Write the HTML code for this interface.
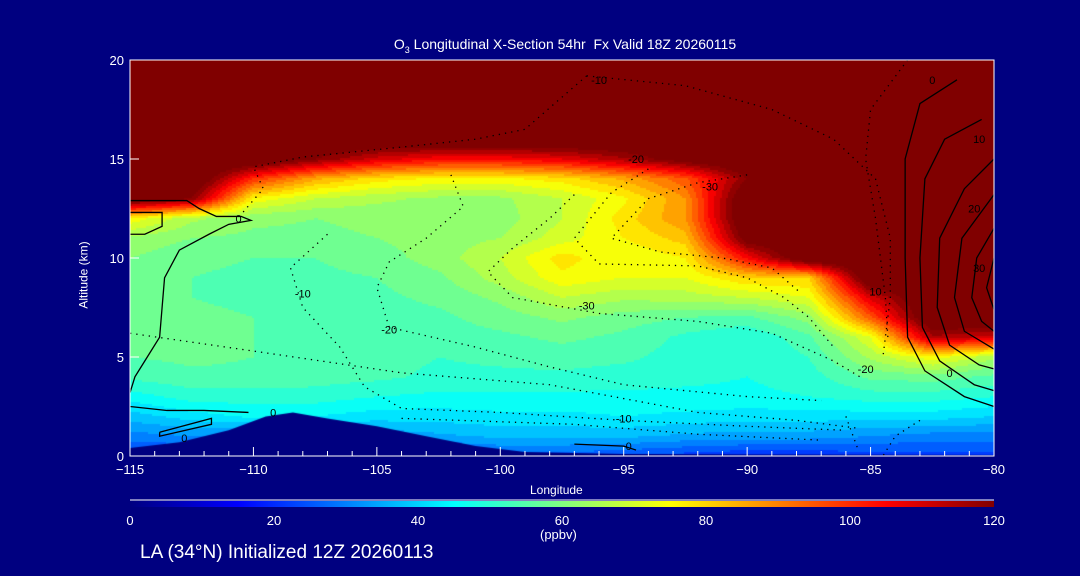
<!DOCTYPE html>
<html><head><meta charset="utf-8">
<style>
html,body{margin:0;padding:0;background:#000080;}
#wrap{position:relative;width:1080px;height:576px;background:#000080;overflow:hidden;font-family:"Liberation Sans",sans-serif;color:#fff;}
.t{position:absolute;white-space:nowrap;font-size:13px;}
canvas{position:absolute;left:130px;top:60px;}
svg{position:absolute;left:0;top:0;}
</style></head>
<body>
<div id="wrap">
<canvas id="cv" width="864" height="396"></canvas>
<svg id="sv" width="1080" height="576"></svg>
<div class="t" style="left:0;width:1130px;text-align:center;top:36px;font-size:14px;">O<sub style="font-size:9px">3</sub> Longitudinal X-Section 54hr&nbsp; Fx Valid 18Z 20260115</div>
<div class="t" style="left:50px;top:268px;transform:rotate(-90deg);font-size:12px;">Altitude (km)</div>
<div class="t" style="left:530px;top:483px;font-size:12px;">Longitude</div>
<div class="t" style="left:540px;top:527px;">(ppbv)</div>
<div class="t" style="left:140px;top:542px;font-size:19px;">LA (34°N) Initialized 12Z 20260113</div>
</div>
<script>
const lons=[-115,-112.5,-110,-107.5,-105,-102.5,-100,-97.5,-95,-92.5,-90,-87.5,-85,-82.5,-80];
const alts=[0,1,2,3,4,5,6,7,8,9,10,11,12,13,14,15,16,17,18,19,20];
const ozone=[
[22,22,22,22,22,24,26,26,24,22,20,20,22,22,22],
[30,32,30,30,33,35,37,37,37,35,34,34,32,30,30],
[38,42,45,44,42,42,43,43,44,43,42,42,42,42,40],
[46,50,50,50,48,47,47,47,47,47,47,48,50,50,48],
[53,55,55,54,53,51,51,51,50,49,48,50,57,58,55],
[56,57,56,55,54,52,53,54,53,50,48,52,65,75,65],
[56,57,56,55,54,54,55,57,55,51,48,55,72,115,110],
[57,57,56,55,54,55,58,61,58,56,55,62,95,130,130],
[57,56,55,55,55,57,61,68,65,66,68,72,110,130,130],
[58,56,55,55,56,59,66,75,72,72,80,80,130,130,130],
[60,57,56,56,58,62,68,78,72,76,105,130,130,130,130],
[63,60,59,59,60,62,64,70,76,82,125,130,130,130,130],
[75,65,61,60,61,62,62,68,78,88,130,130,130,130,130],
[130,120,75,68,65,63,63,68,75,88,130,130,130,130,130],
[130,130,100,85,78,75,75,78,85,95,120,130,130,130,130],
[130,130,130,120,110,105,105,108,115,125,130,130,130,130,130],
[130,130,130,130,130,130,130,130,130,130,130,130,130,130,130],
[130,130,130,130,130,130,130,130,130,130,130,130,130,130,130],
[130,130,130,130,130,130,130,130,130,130,130,130,130,130,130],
[130,130,130,130,130,130,130,130,130,130,130,130,130,130,130],
[130,130,130,130,130,130,130,130,130,130,130,130,130,130,130]];
const terrainLon=[-115,-113,-111,-109.5,-108.4,-107,-105,-103,-101,-99,-95,-90,-85,-80];
const terrainAlt=[0.4,0.7,1.3,2.0,2.2,1.9,1.5,1.0,0.5,0.2,0.1,0.08,0.06,0.05];
const xTicks=[-115,-110,-105,-100,-95,-90,-85,-80];
const yTicks=[0,5,10,15,20];
const cbTicks=[0,20,40,60,80,100,120];
const solidLines=[
[[-115,12.9],[-112.7,12.9],[-112.2,12.5],[-111.5,12.1],[-110.5,12.1],[-110.1,11.9],[-111,11.7],[-111.8,11.2],[-113,10.4],[-113.6,9],[-113.7,7.5],[-113.8,6],[-114.3,5],[-114.8,4],[-115,3.2]],
[[-115,12.3],[-113.7,12.3],[-113.7,11.6],[-114.4,11.2],[-115,11.2]],
[[-115,2.5],[-113.5,2.3],[-112,2.3],[-110.2,2.2]],
[[-113.8,1.2],[-111.7,1.9],[-111.7,1.6],[-113.8,1.0],[-113.8,1.2]],
[[-97,0.6],[-95,0.5],[-94.5,0.3]],
[[-81.5,19],[-83,17.8],[-83.6,15],[-83.6,10],[-83.5,6],[-82.8,4.3],[-81.2,3],[-80,2.5]],
[[-80.5,17],[-82,16],[-82.8,14],[-83,10],[-82.9,6.5],[-82.2,4.8],[-80.8,3.6],[-80,3.3]],
[[-80,15],[-81.2,13.5],[-82.2,11],[-82.3,7.5],[-81.8,5.6],[-80.6,4.6],[-80,4.4]],
[[-80,13.2],[-81.3,11],[-81.6,8],[-81.2,6.3],[-80,5.4]],
[[-80,11.5],[-80.7,10],[-80.9,8],[-80.5,6.8],[-80,6.3]],
[[-80,10],[-80.3,8.5],[-80,7.4]]];
const dottedLines=[
[[-96.5,19.2],[-97.8,17.8],[-99,16.5],[-101,16],[-104,15.6],[-108,15.1],[-110,14.6],[-109.6,13.5],[-110.5,12.2]],
[[-96.5,19.2],[-92.5,18.7],[-89,17.5],[-86.5,16],[-84.8,14],[-84.2,11],[-84.2,8],[-84.5,5]],
[[-83.5,20],[-85,17.5],[-85.2,15],[-84.8,12],[-84.4,8],[-84.3,6]],
[[-107,11.2],[-108.5,9.5],[-108,7.5],[-106.5,5.5],[-105.5,3.5],[-104,2.4],[-100,2.2],[-95,1.8],[-90,1.5],[-86,1.3]],
[[-102,14.2],[-101.5,12.6],[-103,11],[-104.5,9.8],[-105,8.5],[-104.5,6.5],[-101,5.5],[-98,4.5],[-95,3.6],[-90,3.0],[-87,2.8]],
[[-97,13.2],[-98,12],[-99.5,10.5],[-100.5,9.3],[-99.5,8],[-96,7.2],[-92,6.8],[-89,6.2],[-86.5,4.8],[-85.3,3.9]],
[[-94,14.5],[-95.5,13.3],[-97,11],[-96,9.7],[-92,9.6],[-90,9],[-88.5,8],[-87.5,7],[-86.5,5.5]],
[[-90,14.2],[-92,13.8],[-94,13],[-95.5,11],[-93.5,10.3],[-91,10],[-89,9.5],[-87.8,8.2]],
[[-115,6.2],[-110,5.3],[-104,4.2],[-98,3.6],[-92,2.2],[-88,1.8],[-85.5,1.4]],
[[-104,1.9],[-97,1.6],[-92,1.1],[-87,0.8]],
[[-86,2],[-85.5,0.3]],[[-83,1.8],[-84,1],[-84.5,0]]];
const solidLabels=[["0",-110.6,12.0],["0",-109.2,2.2],["0",-112.8,0.9],["0",-94.8,0.5],["0",-82.5,19],["10",-80.6,16],["20",-80.8,12.5],["30",-80.6,9.5],["0",-81.8,4.2]];
const dottedLabels=[["-10",-96,19],["-20",-94.5,15],["-30",-91.5,13.6],["-10",-108,8.2],["-20",-104.5,6.4],["-30",-96.5,7.6],["-10",-95,1.9],["-20",-85.2,4.4],["10",-84.8,8.3]];

const X0=130,X1=994,Y0=456,Y1=60;
const xs=l=>X0+(l+115)/35*(X1-X0);
const ys=a=>Y0-a/20*(Y0-Y1);
function jet(t){t=Math.max(0,Math.min(1,t));const c=v=>Math.round(255*Math.max(0,Math.min(1,v)));
return [c(1.5-Math.abs(4*t-3)),c(1.5-Math.abs(4*t-2)),c(1.5-Math.abs(4*t-1))];}
function sample(lon,alt){
 let fi=(lon-lons[0])/(lons[1]-lons[0]);let fj=alt/(alts[1]-alts[0]);
 fi=Math.max(0,Math.min(lons.length-1.0001,fi));fj=Math.max(0,Math.min(alts.length-1.0001,fj));
 const i=Math.floor(fi),j=Math.floor(fj),u=fi-i,v=fj-j;
 return ozone[j][i]*(1-u)*(1-v)+ozone[j][i+1]*u*(1-v)+ozone[j+1][i]*(1-u)*v+ozone[j+1][i+1]*u*v;}
const cv=document.getElementById('cv');const ctx=cv.getContext('2d');
const step=2;
for(let px=0;px<864;px+=step){for(let py=0;py<396;py+=step){
 const lon=-115+(px+1)/864*35, alt=20-(py+1)/396*20;
 let v=sample(lon,alt); v=Math.min(120,Math.floor(v/4)*4+2);
 const c=jet(v/120);ctx.fillStyle='rgb('+c[0]+','+c[1]+','+c[2]+')';ctx.fillRect(px,py,step,step);}}
ctx.fillStyle='#000080';ctx.beginPath();ctx.moveTo(0,396);
terrainLon.forEach((l,k)=>ctx.lineTo(xs(l)-X0,ys(terrainAlt[k])-Y1));
ctx.lineTo(864,396);ctx.closePath();ctx.fill();

const NS='http://www.w3.org/2000/svg';const sv=document.getElementById('sv');
function mk(tag,at){const e=document.createElementNS(NS,tag);for(const k in at)e.setAttribute(k,at[k]);sv.appendChild(e);return e;}
solidLines.forEach(ln=>{const e=mk('polyline',{points:ln.map(p=>xs(p[0])+','+ys(p[1])).join(' '),fill:'none',stroke:'#000','stroke-width':1.3});

});
dottedLines.forEach(ln=>{const e=mk('polyline',{points:ln.map(p=>xs(p[0])+','+ys(p[1])).join(' '),fill:'none',stroke:'#000','stroke-width':1.3,'stroke-dasharray':'1.3 5'});

});
solidLabels.concat(dottedLabels).forEach(lb=>{const e=mk('text',{x:xs(lb[1]),y:ys(lb[2])+4,fill:'#000','font-size':11,'font-family':'Liberation Sans, sans-serif','text-anchor':'middle'});e.textContent=lb[0];

});
const fr=mk('rect',{x:X0,y:Y1,width:X1-X0,height:Y0-Y1,fill:'none',stroke:'#fff','stroke-width':1});


for(let l=-115;l<=-80;l++){const major=(l%5===0);
 const e=mk('line',{x1:xs(l),x2:xs(l),y1:Y0,y2:Y0-(major?9:5),stroke:'#fff'});
 
 }
xTicks.forEach(l=>{const e=mk('text',{x:xs(l),y:Y0+18,fill:'#fff','font-size':13,'font-family':'Liberation Sans, sans-serif','text-anchor':'middle'});e.textContent=(l<0?'\u2212':'')+Math.abs(l);

});
yTicks.forEach(a=>{const e=mk('text',{x:X0-6,y:ys(a)+5,fill:'#fff','font-size':13,'font-family':'Liberation Sans, sans-serif','text-anchor':'end'});e.textContent=a;


const t=mk('line',{x1:X0,x2:X0+9,y1:ys(a),y2:ys(a),stroke:'#fff'});

});
const g=mk('defs',{});const lg=document.createElementNS(NS,'linearGradient');lg.setAttribute('id','jg');g.appendChild(lg);
for(let k=0;k<=24;k++){const c=jet(k/24);const s=document.createElementNS(NS,'stop');s.setAttribute('offset',(k/24*100)+'%');s.setAttribute('stop-color','rgb('+c+')');lg.appendChild(s);}
const cb=mk('rect',{x:X0,y:501,width:X1-X0,height:6,fill:'url(#jg)'});


const cl=mk('line',{x1:X0,x2:X1,y1:500,y2:500,stroke:'#fff'});


cbTicks.forEach(v=>{const e=mk('text',{x:X0+v/120*(X1-X0),y:525,fill:'#fff','font-size':13,'font-family':'Liberation Sans, sans-serif','text-anchor':'middle'});e.textContent=v;

});
</script>
</body></html>
